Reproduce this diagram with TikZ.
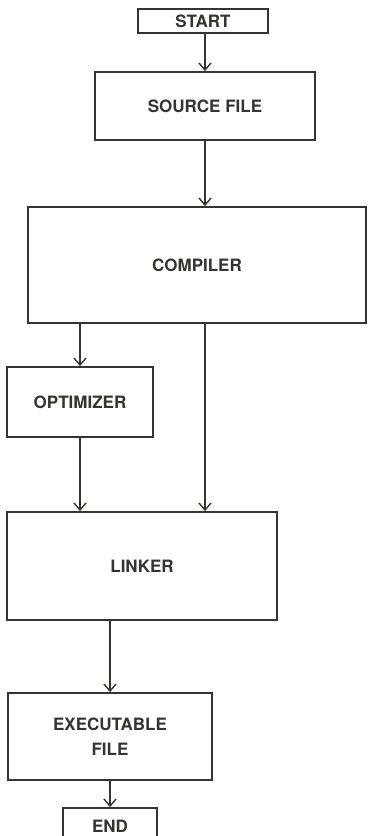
\documentclass[tikz,border=0pt]{standalone}
\usepackage{fontspec}
\setmainfont{TeX Gyre Heros}
\usetikzlibrary{arrows.meta}
\definecolor{ink}{RGB}{50,54,46}
\begin{document}
\begin{tikzpicture}[x=1pt,y=-1pt,
  box/.style={draw=ink, line width=1.8pt, rectangle, inner sep=0pt,
    font=\bfseries\fontsize{17}{25}\selectfont, text=ink, align=center},
  arr/.style={draw=ink, line width=1.6pt,
    -{Straight Barb[length=7pt,width=12pt,line width=1.4pt]}}]
\useasboundingbox (0,0) rectangle (369,836);
\fill[white] (0,0) rectangle (369,836);

% process boxes
\node[box, minimum width=130pt, minimum height=24pt] (start) at (203,21) {START};
\node[box, minimum width=220pt, minimum height=68pt] (source) at (205,106) {SOURCE FILE};
\node[box, minimum width=338pt, minimum height=116pt] (compiler) at (197,265) {COMPILER};
\node[box, minimum width=146pt, minimum height=70pt] (optimizer) at (80,402) {OPTIMIZER};
\node[box, minimum width=270pt, minimum height=108pt] (linker) at (142,566) {LINKER};
\node[box, minimum width=204pt, minimum height=87pt] (exec) at (110,736.5) {EXECUTABLE\\FILE};
\node[box, minimum width=94pt, minimum height=36pt] (end) at (110,826) {END};

% vertical flow line through the main column
\coordinate (main) at (205,0);

% connectors
\draw[arr] (start.south -| main) -- (source.north -| main);
\draw[arr] (source.south -| main) -- (compiler.north -| main);
\draw[arr] (compiler.south -| optimizer.north) -- (optimizer.north);
\draw[arr] (compiler.south -| main) -- (linker.north -| main);
\draw[arr] (optimizer.south) -- (linker.north -| optimizer.south);
\draw[arr] (linker.south -| exec.north) -- (exec.north);
\draw[arr] (exec.south) -- (end.north);
\end{tikzpicture}
\end{document}
